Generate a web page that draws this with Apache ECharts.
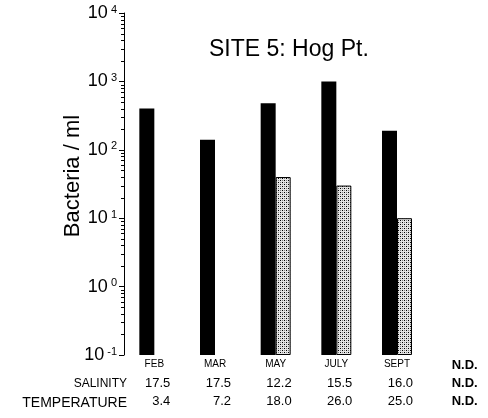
<!DOCTYPE html>
<html>
<head>
<meta charset="utf-8">
<script src="https://cdn.jsdelivr.net/npm/echarts@6/dist/echarts.min.js"></script>
<style>
  html, body { margin: 0; padding: 0; background: #fff; }
  #chart { width: 488px; height: 418px; }
</style>
</head>
<body>
<div id="chart"></div>
<script>
// Sampling months (last column: no data)
const months = ['FEB', 'MAR', 'MAY', 'JULY', 'SEPT', 'N.D.'];
// Bacteria / ml, solid bars
const bacteriaSolid = [400, 140, 480, 1000, 190, null];
// Bacteria / ml, stippled bars
const bacteriaStippled = [null, null, 40, 30, 10, null];
// Table rows under the axis
const salinity = ['17.5', '17.5', '12.2', '15.5', '16.0', 'N.D.'];
const temperature = ['3.4', '7.2', '18.0', '26.0', '25.0', 'N.D.'];
// Log axis: decades and the minor ticks (2..9) inside each decade
const decadeExponents = [-1, 0, 1, 2, 3, 4];
const minorMantissas = [2, 3, 4, 5, 6, 7, 8, 9];

const FONT = '"Liberation Sans", Arial, Helvetica, sans-serif';

const minorTicks = [];
decadeExponents.slice(0, -1).forEach(e => {
  minorMantissas.forEach(m => minorTicks.push([0, m * Math.pow(10, e)]));
});

// Fine dot screen for the stippled bars
function stipplePattern() {
  const c = document.createElement('canvas');
  c.width = 4; c.height = 4;
  const g = c.getContext('2d');
  g.fillStyle = '#e4e4e4'; g.fillRect(0, 0, 4, 4);
  g.fillStyle = '#000';
  g.fillRect(0, 0, 1, 1); g.fillRect(2, 2, 1, 1);
  g.fillStyle = '#808080';
  g.fillRect(2, 0, 1, 1); g.fillRect(0, 2, 1, 1);
  return c;
}

const chart = echarts.init(document.getElementById('chart'), null, { renderer: 'canvas' });

const valueRow = (data, name, offset, nameSize) => ({
  type: 'category',
  data: data,
  gridIndex: 0,
  position: 'bottom',
  offset: offset,
  axisLine: { show: false },
  axisTick: { show: false },
  splitLine: { show: false },
  axisLabel: {
    margin: 0,
    interval: 0,
    color: '#000',
    fontFamily: FONT,
    formatter: v => v === 'N.D.' ? '{nd|N.D.}' : '{v|' + v + '}',
    rich: {
      v: { width: 32, align: 'right', fontSize: 13, fontFamily: FONT, color: '#000' },
      nd: { width: 40, align: 'right', fontSize: 13, fontWeight: 'bold', fontFamily: FONT, color: '#000' }
    }
  },
  name: name,
  nameLocation: 'start',
  nameGap: -3,
  nameTextStyle: {
    align: 'right', verticalAlign: 'top', fontSize: nameSize,
    fontFamily: FONT, color: '#000', padding: [1, 0, 0, 0]
  }
});

chart.setOption({
  animation: false,
  backgroundColor: '#fff',
  title: {
    text: 'SITE 5: Hog Pt.',
    left: 204,
    top: 33,
    textStyle: { fontSize: 23, fontWeight: 'normal', color: '#000', fontFamily: FONT }
  },
  grid: { left: 124, top: 13, width: 366, height: 342, containLabel: false },
  xAxis: [
    {
      type: 'category',
      data: months,
      axisLine: { show: false },
      axisTick: { show: false },
      splitLine: { show: false },
      axisLabel: {
        margin: 4,
        interval: 0,
        color: '#000',
        fontFamily: FONT,
        fontSize: 10,
        formatter: v => v === 'N.D.' ? '{nd|N.D.}' : v,
        rich: {
          nd: { width: 40, align: 'right', fontSize: 13, fontWeight: 'bold', fontFamily: FONT, color: '#000' }
        }
      }
    },
    valueRow(salinity, 'SALINITY', 22, 12),
    valueRow(temperature, 'TEMPERATURE', 40, 14)
  ],
  yAxis: {
    type: 'log',
    logBase: 10,
    min: 0.1,
    max: 10000,
    startValue: 0.1,
    name: 'Bacteria / ml',
    nameLocation: 'middle',
    nameMoveOverlap: false,
    nameGap: 40,
    nameTextStyle: { fontSize: 22, color: '#000', fontFamily: FONT, padding: [0, 0, 0, 16] },
    axisLine: { show: true, lineStyle: { color: '#000', width: 1 } },
    axisTick: { show: true, length: 5, inside: false, lineStyle: { color: '#000' } },
    splitLine: { show: false },
    axisLabel: {
      margin: 7,
      color: '#000',
      formatter: v => '{b|10}{s|' + Math.round(Math.log10(v)) + '}',
      rich: {
        b: { fontSize: 18, fontFamily: FONT, color: '#000' },
        s: { fontSize: 11, fontFamily: FONT, color: '#000', verticalAlign: 'top', padding: [0, 0, 4, 3] }
      }
    }
  },
  series: [
    {
      name: 'solid',
      type: 'bar',
      data: bacteriaSolid,
      barWidth: 15,
      barGap: '0%',
      itemStyle: { color: '#000' }
    },
    {
      name: 'stippled',
      type: 'bar',
      data: bacteriaStippled,
      barWidth: 15,
      barGap: '0%',
      itemStyle: {
        color: { image: stipplePattern(), repeat: 'repeat' },
        borderColor: '#000',
        borderWidth: 1
      }
    },
    {
      name: 'minor ticks',
      type: 'custom',
      clip: false,
      silent: true,
      data: minorTicks,
      renderItem: (params, api) => {
        const pt = api.coord([api.value(0), api.value(1)]);
        const x = params.coordSys.x;
        const y = Math.round(pt[1]) + 0.5;
        return {
          type: 'line',
          shape: { x1: x - 3, y1: y, x2: x, y2: y },
          style: { stroke: '#000', lineWidth: 1 }
        };
      }
    }
  ]
});
</script>
</body>
</html>
